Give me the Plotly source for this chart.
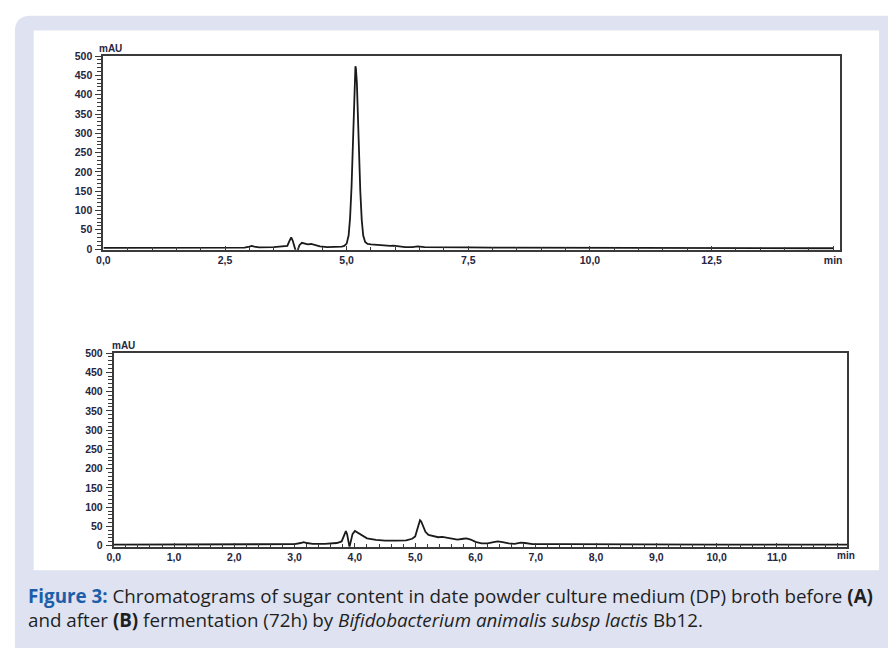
import plotly.graph_objects as go

W, H = 888, 648

# ---- data ----
# (A) before fermentation
time_a = [0.0, 0.5, 1.0, 1.5, 2.0, 2.5, 2.9, 3.0, 3.05, 3.1, 3.2, 3.5, 3.7, 3.78, 3.82, 3.86,
          3.89, 3.92, 3.96, 3.99, 4.03, 4.08, 4.14, 4.2, 4.27, 4.33, 4.45, 4.6, 4.8, 4.9,
          4.95, 5.0, 5.04, 5.07, 5.1, 5.13, 5.15, 5.17, 5.18, 5.19, 5.21, 5.23, 5.25, 5.28,
          5.31, 5.34, 5.38, 5.43, 5.5, 5.6, 5.75, 5.9, 5.96, 6.05, 6.2, 6.35, 6.46, 6.6,
          7.0, 7.5, 8.0, 9.0, 10.0, 10.5, 11.5, 12.5, 13.5, 14.5, 15.0]
mau_a = [3, 3, 3, 3, 3, 3, 3.5, 6, 8, 6, 4.5, 5, 6, 8, 20, 30,
         22, 5, -8, -4, 10, 16, 13, 12, 13, 11, 7, 5, 5, 6,
         8, 14, 35, 80, 160, 290, 380, 455, 474, 468, 430, 350, 260, 150,
         75, 35, 18, 13, 12, 11, 9, 8, 9, 7, 5, 5, 7, 5,
         4, 4, 3.5, 3, 3.5, 3, 2.5, 2.5, 2, 2, 2]

# (B) after fermentation
time_b = [0.0, 1.0, 2.0, 2.8, 3.0, 3.1, 3.15, 3.2, 3.3, 3.5, 3.7, 3.78, 3.82, 3.85, 3.87,
          3.89, 3.91, 3.93, 3.96, 4.0, 4.05, 4.12, 4.2, 4.35, 4.5, 4.7, 4.85, 4.95, 5.0,
          5.03, 5.06, 5.08, 5.1, 5.13, 5.17, 5.22, 5.3, 5.38, 5.45, 5.52, 5.6, 5.7, 5.8,
          5.85, 5.92, 6.0, 6.1, 6.2, 6.3, 6.37, 6.45, 6.55, 6.65, 6.75, 6.82, 6.95, 7.5,
          8.0, 9.0, 10.0, 11.0, 12.17]
mau_b = [3, 3, 3, 3.5, 4, 7, 9, 7, 4.5, 5, 7, 11, 28, 38, 30,
         8, -3, 10, 30, 38, 33, 25, 19, 15, 13, 13, 14, 18, 24,
         40, 58, 66, 63, 50, 36, 28, 24, 22, 23, 21, 18, 16, 18,
         19, 16, 10, 6, 6, 9, 11, 9, 6, 5, 8, 7, 4, 4,
         3.5, 3.5, 3, 3, 3]

y_ticks = [0, 50, 100, 150, 200, 250, 300, 350, 400, 450, 500]
y_labels = [str(v) for v in y_ticks]
xa_ticks = [0, 2.5, 5, 7.5, 10, 12.5, 15]
xa_labels = ["0,0", "2,5", "5,0", "7,5", "10,0", "12,5", "min"]
xb_ticks = [0, 1, 2, 3, 4, 5, 6, 7, 8, 9, 10, 11, 12]
xb_labels = ["0,0", "1,0", "2,0", "3,0", "4,0", "5,0", "6,0", "7,0", "8,0", "9,0",
             "10,0", "11,0", ""]

caption = ("<span style='color:#1d5ea8'><b>Figure 3:</b></span> Chromatograms of sugar content "
           "in date powder culture medium (DP) broth before <b>(A)</b><br>"
           "and after <b>(B)</b> fermentation (72h) by <i>Bifidobacterium animalis subsp lactis</i> Bb12.")


def px(x):
    return x / W


def py(y):
    return 1 - y / H


LINE = "#1a1a1a"
FRAME = "#3a3a3a"
TICKC = "#26263e"
tickfont = dict(family="Liberation Sans", size=10.5, color=TICKC, weight="bold")

fig = go.Figure()
fig.add_trace(go.Scatter(x=time_a, y=mau_a, mode="lines", line=dict(color=LINE, width=1.8),
                         xaxis="x", yaxis="y", showlegend=False, hoverinfo="skip"))
fig.add_trace(go.Scatter(x=time_b, y=mau_b, mode="lines", line=dict(color=LINE, width=1.8),
                         xaxis="x2", yaxis="y2", showlegend=False, hoverinfo="skip"))


def yax(domain, anchor, rng):
    return dict(domain=domain, anchor=anchor, range=rng, tickmode="array", tickvals=y_ticks,
                ticktext=y_labels, ticks="outside", ticklen=6, tickwidth=1.3, tickcolor=FRAME,
                minor=dict(dtick=10, tick0=0, ticks="outside", ticklen=4, tickcolor=FRAME, tickwidth=1),
                showgrid=False, zeroline=False, showline=True, linecolor=FRAME, linewidth=2,
                mirror=True, tickfont=tickfont, ticklabelstandoff=1)


def xax(domain, anchor, rng, tv, tt, mdt):
    return dict(domain=domain, anchor=anchor, range=rng, tickmode="array", tickvals=tv,
                ticktext=tt, ticks="inside", ticklen=4, tickwidth=1.3, tickcolor=FRAME,
                minor=dict(dtick=mdt, tick0=0, ticks="inside", ticklen=3, tickcolor=FRAME, tickwidth=1),
                showgrid=False, zeroline=False, showline=True, linecolor=FRAME, linewidth=2,
                mirror=True, tickfont=tickfont, ticklabelstandoff=0)


fig.update_layout(
    width=W, height=H, margin=dict(l=0, r=0, t=0, b=0),
    paper_bgcolor="white", plot_bgcolor="white",
    xaxis=xax([px(97.5), px(842)], "y", [0, 15.13], xa_ticks, xa_labels, 0.5),
    yaxis=yax([py(248), py(51)], "x", [-2, 500]),
    xaxis2=xax([px(108), px(850)], "y2", [0, 12.17], xb_ticks, xb_labels, 0.2),
    yaxis2=yax([py(550), py(353)], "x2", [-2.5, 500]),
)

# background panels
r = 16
x0, y0 = 8, 10
lav = (f"M {px(x0)},{py(y0 + r)} Q {px(x0)},{py(y0)} {px(x0 + r)},{py(y0)} "
       f"L {px(900)},{py(y0)} L {px(900)},{py(660)} L {px(x0)},{py(660)} Z")
fig.add_shape(type="path", path=lav, xref="paper", yref="paper", fillcolor="#dee2f1",
              line=dict(width=0), layer="below")
fig.add_shape(type="rect", x0=px(27), x1=px(882), y0=py(574), y1=py(25), xref="paper",
              yref="paper", fillcolor="white", line=dict(width=0), layer="below")

# unit labels
unit_font = dict(family="Liberation Sans", size=10, color=TICKC, weight="bold")
fig.add_annotation(x=px(105), y=py(43.5), xref="paper", yref="paper", text="mAU",
                   showarrow=False, font=unit_font, xanchor="center", yanchor="middle")
fig.add_annotation(x=px(118), y=py(345.5), xref="paper", yref="paper", text="mAU",
                   showarrow=False, font=unit_font, xanchor="center", yanchor="middle")
fig.add_annotation(x=px(849), y=py(559), xref="paper", yref="paper", text="min",
                   showarrow=False, font=unit_font, xanchor="center", yanchor="middle")

# caption
cap_font = dict(family="Open Sans", size=18.8, color="#1f1f1f")
fig.add_annotation(x=px(19), y=py(612), xref="paper", yref="paper", text=caption,
                   showarrow=False, xanchor="left", yanchor="middle", font=cap_font, align="left")

fig.write_html("out.html", config={"displayModeBar": False},
               post_script="document.body.style.margin='0';document.body.style.overflow='hidden';")
